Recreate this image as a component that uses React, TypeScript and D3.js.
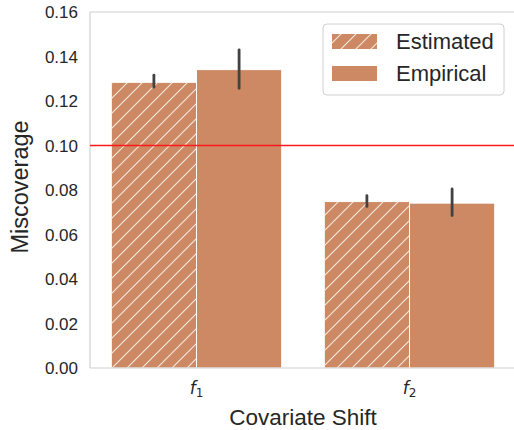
import React from "react";
import * as d3 from "d3";

// Miscoverage per covariate shift
const categories = ["f1", "f2"];
const subscripts = ["1", "2"];
const series = ["Estimated", "Empirical"];
const estimatedMean = [0.1284, 0.0748];
const estimatedLow = [0.1262, 0.0726];
const estimatedHigh = [0.1316, 0.0775];
const empiricalMean = [0.1341, 0.0741];
const empiricalLow = [0.1257, 0.0685];
const empiricalHigh = [0.1430, 0.0805];
const yTicks = [0, 0.02, 0.04, 0.06, 0.08, 0.1, 0.12, 0.14, 0.16];
const targetLevel = 0.1;

const W = 514;
const H = 430;
const margin = { left: 90, right: -2, top: 12, bottom: 62 };
const fill = "#CC8963";
const font = "'Liberation Sans', Arial, sans-serif";

export default function App() {
  const x = d3
    .scaleLinear()
    .domain([-0.5, categories.length - 0.5])
    .range([margin.left, W - margin.right]);
  const y = d3
    .scaleLinear()
    .domain([0, 0.16])
    .range([H - margin.bottom, margin.top]);
  const barW = x(0.4) - x(0);

  const groups = [
    { name: series[0], mean: estimatedMean, lo: estimatedLow, hi: estimatedHigh, offset: -0.2, hatch: true },
    { name: series[1], mean: empiricalMean, lo: empiricalLow, hi: empiricalHigh, offset: 0.2, hatch: false },
  ];

  const x0 = x(-0.5);
  const x1 = x(categories.length - 0.5);

  return (
    <svg
      width={W}
      height={H}
      style={{ position: "absolute", left: 0, top: 0, background: "white" }}
    >
      <defs>
        <pattern id="hatch" patternUnits="userSpaceOnUse" width={15} height={15}>
          <path
            d="M-3.75,3.75 L3.75,-3.75 M0,15 L15,0 M11.25,18.75 L18.75,11.25"
            stroke="#f7e9e0"
            strokeWidth={1.1}
          />
        </pattern>
      </defs>

      {/* spines */}
      <line x1={x0} x2={x1} y1={y(0.16)} y2={y(0.16)} stroke="#d0d0d0" strokeWidth={1.2} />
      <line x1={x0} x2={x0} y1={y(0)} y2={y(0.16)} stroke="#d0d0d0" strokeWidth={1.2} />

      {/* bars */}
      {groups.map((g) =>
        categories.map((c, i) => {
          const cx = x(i + g.offset);
          const top = y(g.mean[i]);
          return (
            <g key={g.name + c}>
              <rect
                x={cx - barW / 2}
                y={top}
                width={barW}
                height={y(0) - top}
                fill={fill}
                stroke="white"
                strokeWidth={1}
              />
              {g.hatch && (
                <rect
                  x={cx - barW / 2 + 0.5}
                  y={top + 0.5}
                  width={barW - 1}
                  height={y(0) - top - 0.5}
                  fill="url(#hatch)"
                />
              )}
            </g>
          );
        })
      )}

      <line x1={x0} x2={x1} y1={y(0)} y2={y(0)} stroke="#d0d0d0" strokeWidth={1.2} />

      {/* error bars */}
      {groups.map((g) =>
        categories.map((c, i) => (
          <line
            key={"e" + g.name + c}
            x1={x(i + g.offset)}
            x2={x(i + g.offset)}
            y1={y(g.lo[i])}
            y2={y(g.hi[i])}
            stroke="#424242"
            strokeWidth={2.8}
            strokeLinecap="round"
          />
        ))
      )}

      {/* target level */}
      <line x1={x0} x2={x1} y1={y(targetLevel)} y2={y(targetLevel)} stroke="#ff1a1a" strokeWidth={1.6} />

      {/* y ticks */}
      {yTicks.map((t) => (
        <text
          key={t}
          x={margin.left - 12}
          y={y(t)}
          dy="0.36em"
          textAnchor="end"
          fontFamily={font}
          fontSize={17}
          fill="#262626"
        >
          {t.toFixed(2)}
        </text>
      ))}

      {/* x ticks */}
      {categories.map((c, i) => (
        <text
          key={c}
          x={x(i)}
          y={394}
          textAnchor="middle"
          fontFamily="'DejaVu Sans', sans-serif"
          fontSize={17}
          fill="#262626"
        >
          <tspan fontStyle="italic">f</tspan>
          <tspan fontSize={12} dy={3}>{subscripts[i]}</tspan>
        </text>
      ))}

      {/* axis titles */}
      <text
        transform={`translate(28,${(y(0) + y(0.16)) / 2 - 3}) rotate(-90)`}
        textAnchor="middle"
        fontFamily={font}
        fontSize={23.5}
        fill="#262626"
      >
        Miscoverage
      </text>
      <text
        x={(x0 + x1) / 2}
        y={425}
        textAnchor="middle"
        fontFamily={font}
        fontSize={22.5}
        fill="#262626"
      >
        Covariate Shift
      </text>

      {/* legend */}
      <g>
        <rect x={323} y={24} width={181} height={71} rx={4} fill="white" fillOpacity={0.8} stroke="#d0d0d0" strokeWidth={1} />
        {groups.map((g, k) => {
          const ly = 34 + k * 32;
          return (
            <g key={"l" + g.name}>
              <rect x={332} y={ly} width={45} height={15} fill={fill} />
              {g.hatch && <rect x={332} y={ly} width={45} height={15} fill="url(#hatch)" />}
              <text
                x={396}
                y={ly + 7.5}
                dy="0.36em"
                fontFamily={font}
                fontSize={22}
                fill="#262626"
              >
                {g.name}
              </text>
            </g>
          );
        })}
      </g>
    </svg>
  );
}
